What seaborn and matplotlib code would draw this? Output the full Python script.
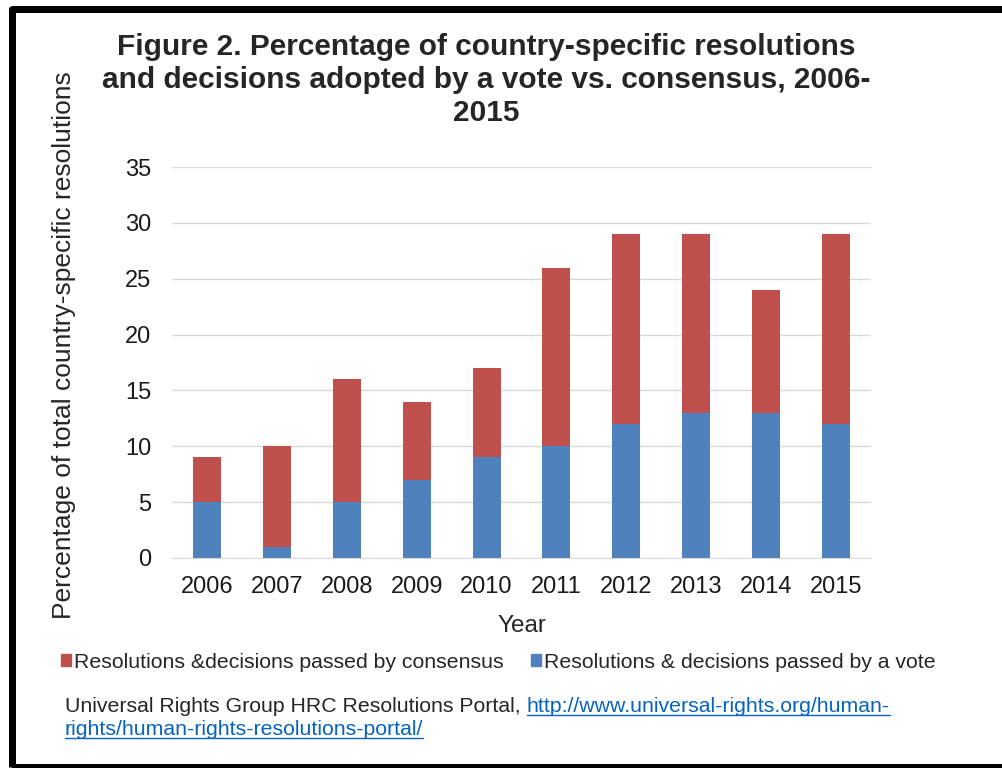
import pandas as pd
import matplotlib
matplotlib.use("Agg")
import matplotlib.pyplot as plt
from matplotlib.lines import Line2D
from matplotlib.patches import Rectangle
import seaborn as sns

years = ["2006", "2007", "2008", "2009", "2010", "2011", "2012", "2013", "2014", "2015"]
by_vote = [5, 1, 5, 7, 9, 10, 12, 13, 13, 12]
by_consensus = [4, 9, 11, 7, 8, 16, 17, 16, 11, 17]

df = pd.DataFrame({"Year": years, "vote": by_vote, "consensus": by_consensus})
df["total"] = df["vote"] + df["consensus"]

sns.set_style("white")
plt.rcParams["font.family"] = ["Liberation Sans", "DejaVu Sans"]

red = "#C0504D"
blue = "#4F81BD"
link = "#0563C1"
W, H = 1002, 768

fig = plt.figure(figsize=(W / 100, H / 100), dpi=100)
ax = fig.add_axes([172 / W, 210 / H, 699 / W, 391 / H])

# total first in red, vote on top of it in blue -> stacked look
sns.barplot(data=df, x="Year", y="total", color=red, width=0.4, saturation=1, linewidth=0, ax=ax)
sns.barplot(data=df, x="Year", y="vote", color=blue, width=0.4, saturation=1, linewidth=0, ax=ax)

ax.set_ylim(0, 35)
ax.set_yticks(range(0, 36, 5))
ax.yaxis.grid(True, color="#d9d9d9", linewidth=1)
ax.set_axisbelow(True)
for s in ["top", "right", "left"]:
    ax.spines[s].set_visible(False)
ax.spines["bottom"].set_color("#d9d9d9")
ax.tick_params(axis="both", length=0, labelsize=17, colors="#1a1a1a")
ax.tick_params(axis="y", pad=15)
ax.tick_params(axis="x", pad=13)
ax.set_xlabel("Year", fontsize=17.5, labelpad=12)
ax.set_ylabel("Percentage of total country-specific resolutions", fontsize=19)
ax.yaxis.set_label_coords(-0.137, 0.545)

fig.text(486 / W, 1 - 47 / H, "Figure 2. Percentage of country-specific resolutions",
         ha="center", va="center", fontsize=21.5, fontweight="bold")
fig.text(486 / W, 1 - 80 / H, "and decisions adopted by a vote vs. consensus, 2006-",
         ha="center", va="center", fontsize=21.5, fontweight="bold")
fig.text(486 / W, 1 - 113 / H, "2015",
         ha="center", va="center", fontsize=21.5, fontweight="bold")

handles = [Rectangle((0, 0), 1, 1, color=red), Rectangle((0, 0), 1, 1, color=blue)]
labels = ["Resolutions &decisions passed by consensus", "Resolutions & decisions passed by a vote"]
fig.legend(handles, labels, loc="center left", bbox_to_anchor=(42 / W, 1 - 662 / H), ncol=2, frameon=False,
           fontsize=15.3, handlelength=0.45, handleheight=0.45, handletextpad=0.15, columnspacing=1.3)

# source line with underlined link
renderer = fig.canvas.get_renderer()
t1 = fig.text(65 / W, 1 - 712 / H, "Universal Rights Group HRC Resolutions Portal, ", fontsize=15.3, va="baseline")
x2 = t1.get_window_extent(renderer).x1 / W
t2 = fig.text(x2, 1 - 712 / H, "http://www.universal-rights.org/human-", fontsize=15.3, va="baseline", color=link)
t3 = fig.text(65 / W, 1 - 735 / H, "rights/human-rights-resolutions-portal/", fontsize=15.3, va="baseline", color=link)
for t, yb in [(t2, 712), (t3, 735)]:
    bb = t.get_window_extent(renderer)
    fig.add_artist(Line2D([bb.x0 / W, bb.x1 / W], [1 - (yb + 3) / H, 1 - (yb + 3) / H], color=link, linewidth=1))

# black frame (cropped on right / bottom like the source)
fig.add_artist(Rectangle((11.5 / W, 1.5 / H), 1010 / W, 758 / H, fill=False, edgecolor="black",
                         linewidth=7 * 0.72, joinstyle="round", transform=fig.transFigure))

fig.savefig("out.png", dpi=100, facecolor="white")
